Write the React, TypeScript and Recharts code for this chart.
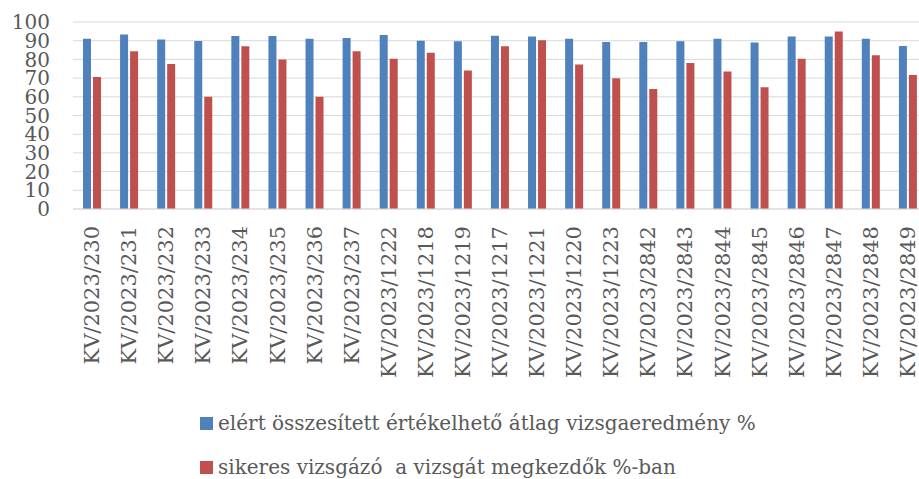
import { BarChart, Bar, XAxis, YAxis, CartesianGrid } from "recharts";

const categories = [
  "KV/2023/230", "KV/2023/231", "KV/2023/232", "KV/2023/233", "KV/2023/234",
  "KV/2023/235", "KV/2023/236", "KV/2023/237", "KV/2023/1222", "KV/2023/1218",
  "KV/2023/1219", "KV/2023/1217", "KV/2023/1221", "KV/2023/1220", "KV/2023/1223",
  "KV/2023/2842", "KV/2023/2843", "KV/2023/2844", "KV/2023/2845", "KV/2023/2846",
  "KV/2023/2847", "KV/2023/2848", "KV/2023/2849",
];

const avgResult = [
  91.1, 93.3, 90.6, 89.9, 92.5, 92.5, 91.1, 91.5, 93.1, 90.0, 89.7, 92.7,
  92.2, 91.1, 89.3, 89.3, 89.7, 91.1, 89.0, 92.2, 92.2, 91.1, 87.2,
];

const successRate = [
  70.6, 84.4, 77.6, 60.0, 87.0, 79.9, 60.0, 84.4, 80.4, 83.6, 74.0, 87.0,
  90.2, 77.3, 69.9, 64.2, 78.1, 73.5, 65.1, 80.4, 94.9, 82.2, 71.7,
];

const yTicks = [0, 10, 20, 30, 40, 50, 60, 70, 80, 90, 100];

const series = [
  { key: "avg", name: "elért összesített értékelhető átlag vizsgaeredmény %", color: "#4f81bd" },
  { key: "success", name: "sikeres vizsgázó  a vizsgát megkezdők %-ban", color: "#c0504d" },
];

const data = categories.map((name, i) => ({
  name,
  avg: avgResult[i],
  success: successRate[i],
}));

const TEXT = "#595959";
const GRID = "#d9d9d9";
const FONT = "'DejaVu Serif', serif";

function RotatedTick(props: any) {
  const { x, y, payload } = props;
  return (
    <g transform={`translate(${x},${y})`}>
      <text
        transform="rotate(-90)"
        textAnchor="end"
        dy="0.36em"
        fill={TEXT}
        fontSize={21}
        fontFamily={FONT}
      >
        {payload.value}
      </text>
    </g>
  );
}

export default function App() {
  return (
    <div
      style={{
        position: "absolute",
        left: 0,
        top: 0,
        width: 919,
        height: 479,
        overflow: "hidden",
        background: "#fff",
      }}
    >
      <BarChart
        width={930}
        height={479}
        data={data}
        margin={{ top: 22, right: 4, left: 0, bottom: 109 }}
        barSize={8}
        barGap={2}
      >
        <CartesianGrid vertical={false} stroke={GRID} />
        <XAxis
          dataKey="name"
          interval={0}
          height={161}
          tickLine={false}
          tickSize={0}
          tickMargin={17}
          axisLine={{ stroke: GRID }}
          tick={<RotatedTick />}
        />
        <YAxis
          width={73}
          domain={[0, 100]}
          ticks={yTicks}
          interval={0}
          axisLine={false}
          tickLine={false}
          tickSize={0}
          tickMargin={23}
          tick={{ fill: TEXT, fontSize: 20, fontFamily: FONT }}
        />
        {series.map((s) => (
          <Bar key={s.key} dataKey={s.key} name={s.name} fill={s.color} isAnimationActive={false} />
        ))}
      </BarChart>
      {series.map((s, i) => (
        <div
          key={s.key}
          style={{
            position: "absolute",
            left: 200,
            top: 410 + i * 44,
            height: 26,
            display: "flex",
            alignItems: "center",
            fontFamily: FONT,
            fontSize: 20,
            color: TEXT,
            whiteSpace: "pre",
          }}
        >
          <span
            style={{
              width: 13,
              height: 13,
              background: s.color,
              marginRight: 5,
              display: "inline-block",
              flexShrink: 0,
            }}
          />
          {s.name}
        </div>
      ))}
    </div>
  );
}
